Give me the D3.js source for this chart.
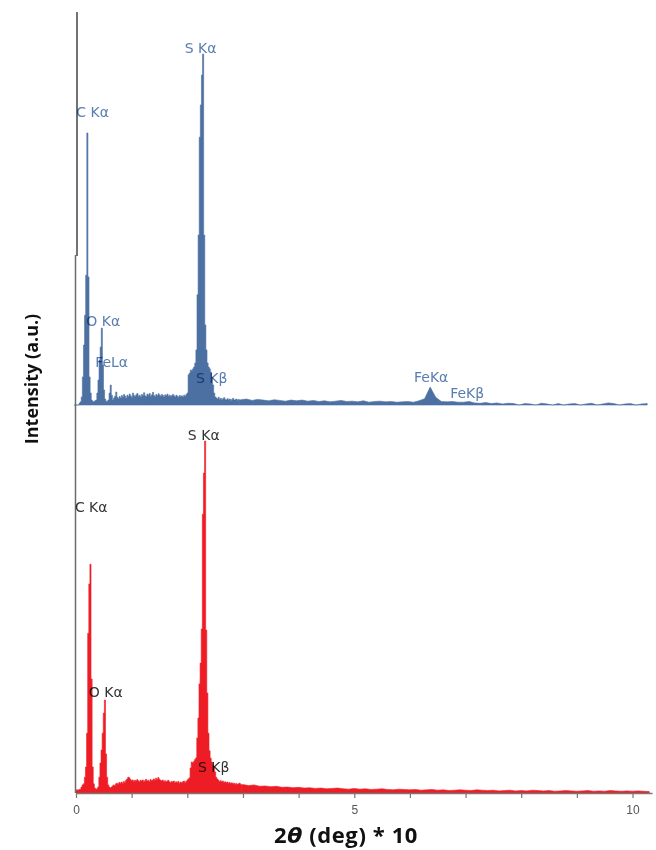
<!DOCTYPE html>
<html>
<head>
<meta charset="utf-8">
<script src="https://cdn.jsdelivr.net/npm/d3@7.9.0/dist/d3.min.js"></script>
<style>
  html, body { margin: 0; padding: 0; background: #fff; }
  svg { display: block; }
  .peak { font-family: "DejaVu Sans", sans-serif; font-size: 14px; mix-blend-mode: multiply; }
</style>
</head>
<body>
<svg id="chart" width="656" height="850"></svg>
<script>
// channel width 0.02 keV for 0 - 2.98 keV, then 0.1 keV for 3.0 - 10.3 keV
const fineStep = 0.02;
const coarseStart = 3.0;
const coarseStep = 0.1;

// top spectrum (blue), counts per channel
const topFine = [
  0, 0, 0, 0, 0, 5, 9, 23, 80, 171, 256, 370, 775, 365, 80, 34, 14, 10, 9, 12,
  14, 34, 71, 128, 165, 219, 114, 43, 17, 11, 11, 14, 34, 57, 28, 14, 20, 25, 37, 22,
  18, 24, 20, 27, 22, 30, 25, 19, 28, 24, 31, 26, 22, 34, 27, 24, 29, 33, 25, 28,
  23, 30, 27, 35, 26, 24, 31, 28, 33, 25, 29, 36, 27, 24, 30, 26, 32, 28, 25, 30,
  27, 23, 29, 26, 31, 25, 28, 24, 27, 30, 26, 23, 28, 25, 22, 27, 24, 26, 23, 28,
  25, 30, 34, 86, 91, 100, 97, 103, 108, 120, 157, 314, 484, 763, 855, 940, 1000, 484, 228, 157,
  120, 108, 103, 94, 80, 57, 34, 23, 20, 17, 22, 16, 19, 15, 18, 21, 16, 14, 18, 15,
  17, 13, 16, 19, 14, 15, 17, 13, 16, 14
];
const topCoarse = [
  15, 17, 13, 16, 14, 12, 15, 13, 11, 14,
  12, 14, 11, 13, 10, 12, 9, 11, 13, 10,
  11, 9, 12, 8, 10, 11, 9, 10, 8, 9,
  10, 8, 12, 18, 51, 22, 10, 9, 10, 8,
  8, 10, 6, 5, 7, 4, 6, 3, 5, 4,
  0, 4, 3, 0, 5, 3, 0, 4, 0, 3,
  4, 0, 3, 5, 0, 3, 6, 4, 0, 3,
  4, 0, 3, 4
];

// bottom spectrum (red)
const bottomFine = [
  8, 9, 8, 10, 11, 17, 23, 26, 45, 74, 170, 454, 594, 650, 324, 74, 26, 14, 11, 12,
  17, 45, 85, 122, 170, 227, 264, 111, 45, 23, 17, 14, 17, 20, 23, 20, 26, 28, 25, 30,
  28, 31, 27, 33, 30, 36, 40, 45, 43, 38, 35, 37, 33, 36, 34, 38, 35, 32, 36, 34,
  37, 33, 35, 39, 34, 36, 32, 38, 35, 37, 40, 36, 42, 38, 44, 39, 36, 34, 37, 33,
  35, 31, 34, 36, 32, 30, 33, 31, 34, 29, 32, 30, 33, 28, 31, 29, 32, 34, 30, 33,
  36, 40, 43, 71, 88, 85, 90, 95, 100, 156, 213, 310, 369, 466, 792, 909, 1000, 463, 284, 170,
  120, 99, 88, 80, 75, 60, 45, 40, 36, 33, 35, 31, 34, 30, 32, 29, 31, 28, 30, 27,
  29, 26, 28, 25, 27, 24, 26, 28, 25, 23
];
const bottomCoarse = [
  24, 21, 23, 19, 20, 18, 19, 16, 17, 15,
  16, 14, 15, 13, 14, 12, 13, 14, 12, 11,
  13, 11, 12, 10, 11, 12, 10, 9, 11, 10,
  9, 10, 8, 9, 10, 8, 9, 7, 8, 9,
  8, 7, 9, 8, 7, 8, 6, 7, 8, 6,
  7, 6, 8, 7, 6, 7, 5, 6, 7, 6,
  5, 6, 7, 5, 6, 5, 7, 6, 5, 6,
  5, 6, 5, 4
];

// peak labels: [text, keV, counts]
const topLabels = [
  ["S Kα", 1.99, 1003], ["C Kα", 0.04, 820], ["O Kα", 0.22, 225], ["FeLα", 0.38, 108],
  ["S Kβ", 2.19, 63], ["FeKα", 6.11, 66], ["FeKβ", 6.76, 20]
];
const bottomLabels = [
  ["S Kα", 2.01, 1003], ["C Kα", -0.02, 798], ["O Kα", 0.23, 273], ["S Kβ", 2.19, 60]
];

const xTicks = [0, 1, 2, 3, 4, 5, 6, 7, 8, 9, 10];
const xTickLabels = [0, 5, 10];

const topColor = "#4c70a2";
const topLabelColor = "#5a7db1";
const bottomColor = "#ee1d25";

const svg = d3.select("#chart");

const xTop = d3.scaleLinear().domain([0, 10.35]).range([74, 650]);
const xBot = d3.scaleLinear().domain([0, 10.35]).range([76, 652]);
const yTop = d3.scaleLinear().domain([0, 1000]).range([405, 54]);
const yBot = d3.scaleLinear().domain([0, 1000]).range([793, 441]);

function drawSpectrum(fine, coarse, x, y, color) {
  const finePts = fine.map((c, i) => ({ e: i * fineStep, c }));
  const coarsePts = coarse.map((c, j) => ({ e: coarseStart + j * coarseStep, c }));
  // join the two parts so the fill is continuous
  coarsePts.unshift(finePts[finePts.length - 1]);

  const fineArea = d3.area()
    .x(d => x(d.e))
    .y0(y(0))
    .y1(d => y(d.c))
    .curve(d3.curveStep);
  const coarseArea = d3.area()
    .x(d => x(d.e))
    .y0(y(0))
    .y1(d => y(d.c))
    .curve(d3.curveLinear);

  svg.append("path")
    .datum(finePts)
    .attr("d", fineArea)
    .attr("fill", color)
    .attr("stroke", color)
    .attr("stroke-width", 0.6);
  svg.append("path")
    .datum(coarsePts)
    .attr("d", coarseArea)
    .attr("fill", color)
    .attr("stroke", color)
    .attr("stroke-width", 0.6);
}

drawSpectrum(topFine, topCoarse, xTop, yTop, topColor);
drawSpectrum(bottomFine, bottomCoarse, xBot, yBot, bottomColor);

// left axis lines
svg.append("line")
  .attr("x1", 77).attr("x2", 77).attr("y1", 12).attr("y2", 256)
  .attr("stroke", "#444").attr("stroke-width", 1.5);
svg.append("line")
  .attr("x1", 75.5).attr("x2", 75.5).attr("y1", 255).attr("y2", 793)
  .attr("stroke", "#6b6b6b").attr("stroke-width", 1.5);

// bottom axis
const xAxis = d3.axisBottom(xBot)
  .tickValues(xTicks)
  .tickSize(5)
  .tickSizeOuter(0)
  .tickPadding(7)
  .tickFormat(d => xTickLabels.includes(d) ? d : "");

const gx = svg.append("g")
  .attr("transform", `translate(0,${yBot(0)})`)
  .call(xAxis);
gx.select(".domain").attr("stroke", "#777").attr("stroke-width", 1.5);
gx.selectAll(".tick line").attr("stroke", "#777").attr("stroke-width", 1.2);
gx.selectAll(".tick text")
  .attr("fill", "#555")
  .style("font-family", "Liberation Sans, Arial, sans-serif")
  .style("font-size", "12px");

// peak labels
svg.append("g").selectAll("text")
  .data(topLabels)
  .join("text")
  .attr("class", "peak")
  .attr("x", d => xTop(d[1]))
  .attr("y", d => yTop(d[2]))
  .attr("fill", topLabelColor)
  .text(d => d[0]);

svg.append("g").selectAll("text")
  .data(bottomLabels)
  .join("text")
  .attr("class", "peak")
  .attr("x", d => xBot(d[1]))
  .attr("y", d => yBot(d[2]))
  .attr("fill", "#333")
  .text(d => d[0]);

// axis titles
svg.append("text")
  .attr("transform", "translate(38,379) rotate(-90)")
  .attr("text-anchor", "middle")
  .style("font-family", "'Open Sans', Lato, sans-serif")
  .style("font-weight", "bold")
  .style("font-size", "18px")
  .attr("fill", "#111")
  .text("Intensity (a.u.)");

const xt = svg.append("text")
  .attr("x", 346)
  .attr("y", 843)
  .attr("text-anchor", "middle")
  .style("font-family", "'Open Sans', Lato, sans-serif")
  .style("font-weight", "bold")
  .style("font-size", "22px")
  .style("letter-spacing", "0.6px")
  .attr("fill", "#111");
xt.append("tspan").text("2");
xt.append("tspan").style("font-family", "'DejaVu Sans', sans-serif").style("font-style", "italic").text("θ");
xt.append("tspan").text(" (deg) * 10");
</script>
</body>
</html>
